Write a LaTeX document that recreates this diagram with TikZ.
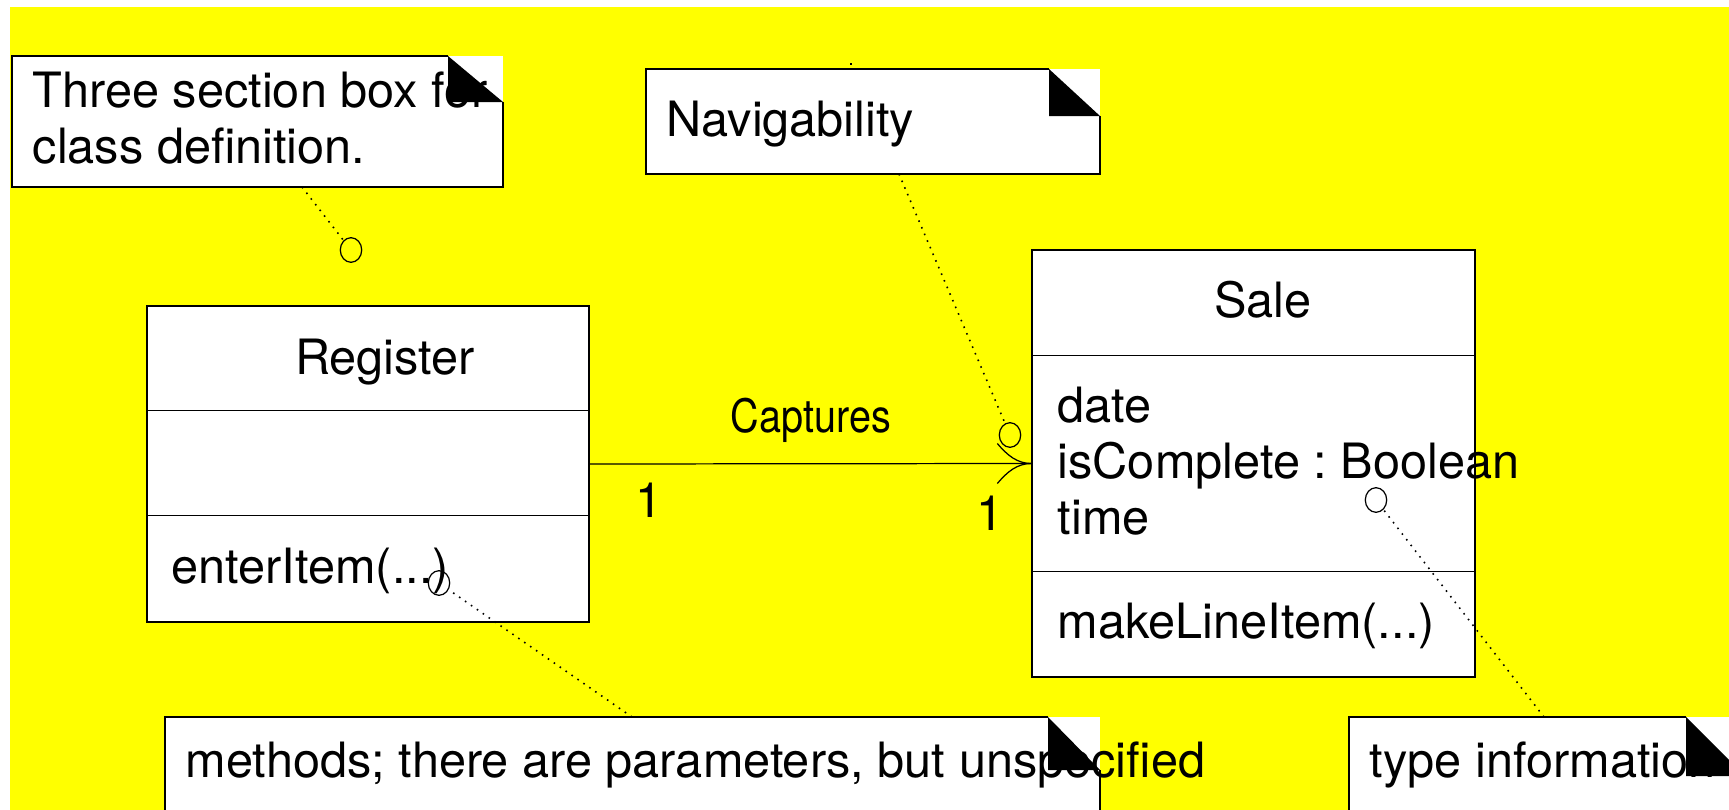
\documentclass[tikz,border=0pt]{standalone}
\usepackage{fontspec}
\setmainfont{TeX Gyre Heros}
\newfontfamily\narrowfont[FakeStretch=0.86]{TeX Gyre Heros}
\usetikzlibrary{shapes.geometric,calc}
\frenchspacing

\definecolor{sheetyellow}{RGB}{255,255,0}

\tikzset{
  umlbox/.style={draw, fill=white, line width=0.35pt, inner sep=0pt},
  umltext/.style={inner sep=0pt, align=left},
  notepin/.style={draw, ellipse, inner sep=0pt, line width=0.35pt,
    minimum width=2.14mm, minimum height=2.46mm},
  notelink/.style={line width=0.45pt, dash pattern=on 0.45pt off 1.6pt},
}

% note with folded corner: name, top left, bottom right, fold w/h, last baseline, text
\newcommand{\umlnote}[9]{%
  \fill[white] (#2,#3) rectangle (#4,#5);
  \draw[line width=0.35pt] (#4-#6,#3) -- (#2,#3) -- (#2,#5) -- (#4,#5) -- (#4,#3+#7);
  \node[umltext, anchor=base west] (#1) at (#2+20,#3+#8) {#9};
  \fill (#4-#6,#3) -- (#4-#6,#3+#7) -- (#4,#3+#7) -- cycle;
}

\begin{document}
\begin{tikzpicture}[x=0.1mm, y=-0.1mm, font=\fontsize{13.85pt}{15.8pt}\selectfont]
  \clip (0,0) rectangle (1729,810);
  \fill[white] (0,0) rectangle (1729,810);
  \fill[sheetyellow] (10,7) rectangle (1729,810);

  % notes
  \umlnote{clsnote}{12}{56}{503}{187}{55}{46}{107}{Three section box for\\class definition.}
  \umlnote{navnote}{646}{69}{1100}{174}{51}{47}{67}{Navigability}
  \umlnote{methnote}{165}{717}{1100}{840}{52}{53}{60}{methods; there are parameters, but unspecified}
  \umlnote{typenote}{1349}{717}{1745}{840}{59}{59}{60}{type information}

  % Register
  \node[umlbox, minimum width=44.2mm, minimum height=31.6mm] (reg) at (368,464) {};
  \draw[line width=0.35pt] ([yshift=-10.5mm]reg.north west) -- ([yshift=-10.5mm]reg.north east);
  \draw[line width=0.35pt] ([yshift=-21mm]reg.north west) -- ([yshift=-21mm]reg.north east);
  \node[umltext, anchor=base] (regname) at (385,374) {Register};
  \node[umltext, anchor=base west] (regops) at (171,583) {enterItem(...)};

  % Sale
  \node[umlbox, minimum width=44.3mm, minimum height=42.7mm] (sale) at (1253.5,463.5) {};
  \draw[line width=0.35pt] ([yshift=-10.6mm]sale.north west) -- ([yshift=-10.6mm]sale.north east);
  \draw[line width=0.35pt] ([yshift=-32.2mm]sale.north west) -- ([yshift=-32.2mm]sale.north east);
  \node[umltext, anchor=base] (salename) at (1263,317) {Sale};
  \node[umltext, anchor=base west] (saleattrs) at (1057,534) {date\\isComplete : Boolean\\time};
  \node[umltext, anchor=base west] (saleops) at (1057,638) {makeLineItem(...)};

  % association with open arrow
  \draw[line width=0.35pt] (reg.east) -- (sale.west);
  \draw[line width=0.35pt] ($(sale.west)+(-34,-20)$) .. controls ($(sale.west)+(-24,-8)$) and ($(sale.west)+(-14,0)$) .. (sale.west);
  \draw[line width=0.35pt] ($(sale.west)+(-34,20)$) .. controls ($(sale.west)+(-24,8)$) and ($(sale.west)+(-14,0)$) .. (sale.west);
  \node[umltext, anchor=base, font=\narrowfont\fontsize{13.1pt}{15pt}\selectfont] (assoc) at (811,432) {Captures};
  \node[umltext, anchor=base west] (regmult) at (635,517) {1};
  \node[umltext, anchor=base west] (salemult) at (976,530) {1};

  % pins and links to the notes
  \node[notepin] (clspin) at (351,250) {};
  \node[notepin] (navpin) at (1010,435) {};
  \node[notepin] (methpin) at (439,583) {};
  \node[notepin] (typepin) at (1376,500) {};
  \coordinate (clstail) at (302,187);
  \coordinate (navtail) at (899,174);
  \coordinate (methtail) at (632,717);
  \coordinate (typetail) at (1544,717);
  \coordinate (navstubtop) at (851,63);
  \coordinate (navstubfoot) at (851,69);
  \draw[notelink] (clstail) -- (clspin);
  \draw[notelink] (navtail) -- (navpin);
  \draw[notelink] (methtail) -- (methpin);
  \draw[notelink] (typetail) -- (typepin);
  \draw[notelink] (navstubtop) -- (navstubfoot);
\end{tikzpicture}
\end{document}
